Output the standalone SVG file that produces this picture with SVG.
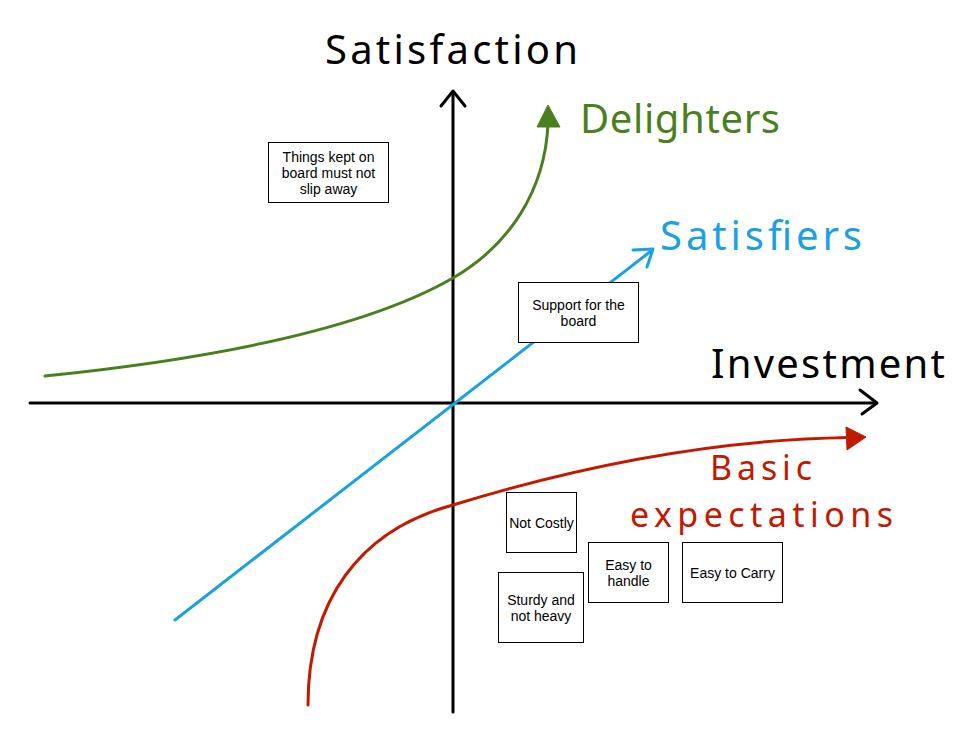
<svg xmlns="http://www.w3.org/2000/svg" width="966" height="735" viewBox="0 0 966 735">
<style>
.box{fill:#fff;stroke:#000;stroke-width:1}
.bt{font-family:"Liberation Sans",Arial,sans-serif;font-size:14px;fill:#000;text-anchor:middle}
.hand{font-family:"Noto Sans","DejaVu Sans",sans-serif;font-size:40px}
.ax{fill:none;stroke:#000;stroke-width:3;stroke-linecap:round}
.head{fill:none;stroke-width:3;stroke-linecap:round;stroke-linejoin:round}
</style>
<rect width="966" height="735" fill="#fff"/>
<g id="labels">
<text class="hand" x="325" y="64" textLength="253" fill="#000">Satisfaction</text>
<text class="hand" x="580" y="133" textLength="200" fill="#4a7f1e">Delighters</text>
<text class="hand" x="660" y="250" textLength="202" fill="#1ba1e2">Satisfiers</text>
<text class="hand" x="711" y="378" textLength="234" fill="#000">Investment</text>
<text class="hand" x="710" y="480" textLength="102" fill="#c21a00" style="font-size:34px">Basic</text>
<text class="hand" x="630" y="527" textLength="263" fill="#c21a00" style="font-size:34px">expectations</text>
</g>
<g id="connectors">
<g id="axis-x">
<path class="ax" d="M30,403 L875,403"/>
<path class="head" stroke="#000" d="M860,390 L877,403 L862,414"/>
</g>
<g id="axis-y">
<path class="ax" d="M453,712 L453,92"/>
<path class="head" stroke="#000" d="M441,106 L453,91 L465,106"/>
</g>
<g id="curve-delighters">
<path fill="none" stroke="#4a7f1e" stroke-width="3" stroke-linecap="round" d="M45,376 C250,355 380,320 453,278 C510,245 545,190 548,124"/>
<path fill="#4a7f1e" stroke="#4a7f1e" stroke-width="1" stroke-linejoin="round" d="M548,105 L560,127 L537,127 Z"/>
</g>
<g id="line-satisfiers">
<path fill="none" stroke="#1ba1e2" stroke-width="3" stroke-linecap="round" d="M175,620 L651,251"/>
<path class="head" stroke="#1ba1e2" d="M633,250 L653,249 L647,267"/>
</g>
<g id="curve-basic">
<path fill="none" stroke="#c21a00" stroke-width="3" stroke-linecap="round" d="M308,705 C308,600 360,530 453,505 C560,472 700,440 848,437.5"/>
<path fill="#c21a00" stroke="#c21a00" stroke-width="1" stroke-linejoin="round" d="M866,437 L846,427 L847,450 Z"/>
</g>
</g>
<g id="node-things">
<rect class="box" x="268.5" y="142.5" width="120" height="60"/>
<text class="bt"><tspan x="328.5" y="162">Things kept on</tspan><tspan x="328.5" y="178">board must not</tspan><tspan x="328.5" y="194">slip away</tspan></text>
</g>
<g id="node-support">
<rect class="box" x="518.5" y="282.5" width="120" height="60"/>
<text class="bt"><tspan x="578.5" y="310">Support for the</tspan><tspan x="578.5" y="326">board</tspan></text>
</g>
<g id="node-notcostly">
<rect class="box" x="506.5" y="492.5" width="70" height="60"/>
<text class="bt" x="541.5" y="528">Not Costly</text>
</g>
<g id="node-handle">
<rect class="box" x="588.5" y="542.5" width="80" height="60"/>
<text class="bt"><tspan x="628.5" y="570">Easy to</tspan><tspan x="628.5" y="586">handle</tspan></text>
</g>
<g id="node-carry">
<rect class="box" x="682.5" y="542.5" width="100" height="60"/>
<text class="bt" x="732.5" y="578">Easy to Carry</text>
</g>
<g id="node-sturdy">
<rect class="box" x="498.5" y="572.5" width="85" height="70"/>
<text class="bt"><tspan x="541" y="605">Sturdy and</tspan><tspan x="541" y="621">not heavy</tspan></text>
</g>
</svg>
